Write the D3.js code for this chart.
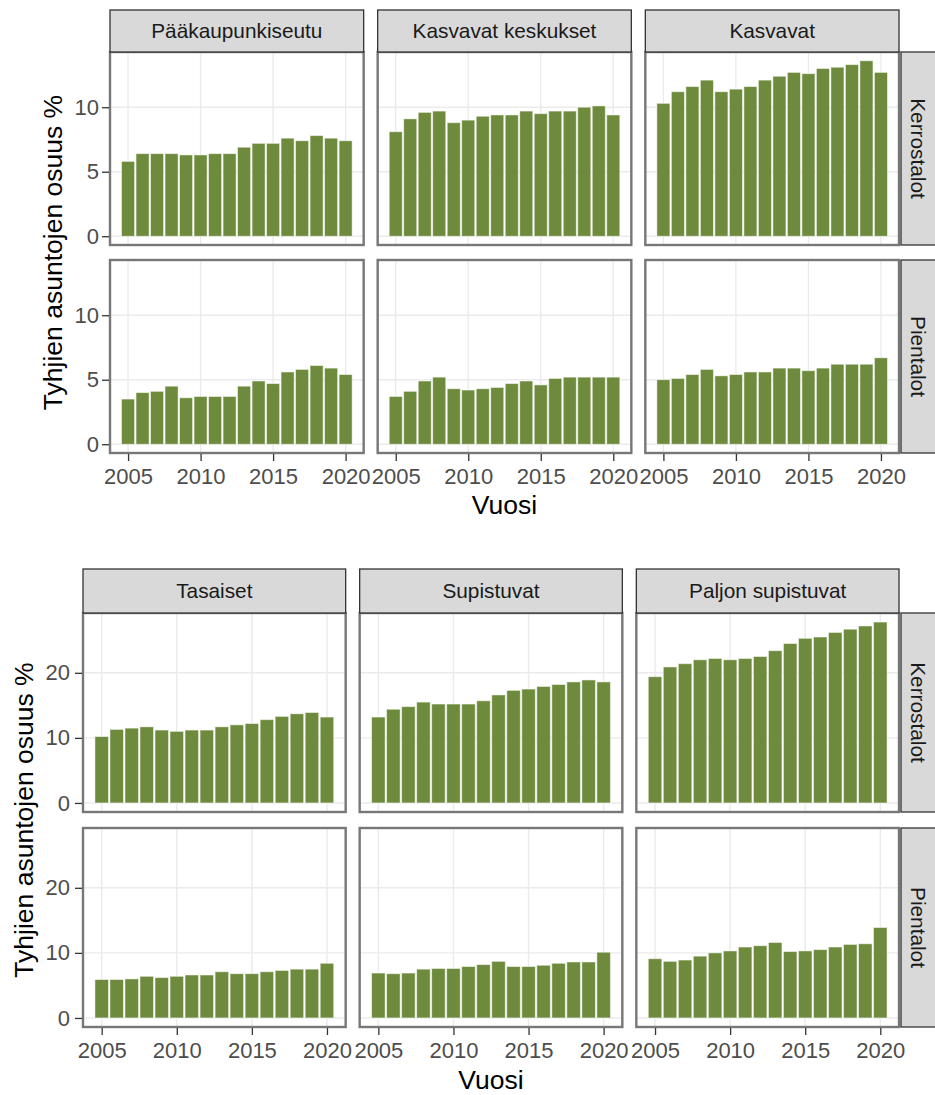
<!DOCTYPE html>
<html>
<head>
<meta charset="utf-8">
<script src="https://cdn.jsdelivr.net/npm/d3@7"></script>
<style>
  body { margin: 0; background: #fff; }
  svg { font-family: Arial, "Liberation Sans", sans-serif; display: block; }
</style>
</head>
<body>
<svg id="chart" width="935" height="1095"></svg>
<script>
"use strict";

var years = [2005, 2006, 2007, 2008, 2009, 2010, 2011, 2012, 2013, 2014, 2015, 2016, 2017, 2018, 2019, 2020]
var rowNames = ["Kerrostalot", "Pientalot"]
var regionsTop = ["Pääkaupunkiseutu", "Kasvavat keskukset", "Kasvavat"]
var regionsBottom = ["Tasaiset", "Supistuvat", "Paljon supistuvat"]
var xTickYears = [2005, 2010, 2015, 2020]
var yTicksTop = [0, 5, 10]
var yTicksBottom = [0, 10, 20]

// Kerrostalot
var paakaupKerros = [5.8, 6.4, 6.4, 6.4, 6.3, 6.3, 6.4, 6.4, 6.9, 7.2, 7.2, 7.6, 7.4, 7.8, 7.6, 7.4]
var kasvKeskKerros = [8.1, 9.1, 9.6, 9.7, 8.8, 9.0, 9.3, 9.4, 9.4, 9.7, 9.5, 9.7, 9.7, 10.0, 10.1, 9.4]
var kasvavatKerros = [10.3, 11.2, 11.6, 12.1, 11.2, 11.4, 11.6, 12.1, 12.4, 12.7, 12.6, 13.0, 13.1, 13.3, 13.6, 12.7]
var tasaisetKerros = [10.2, 11.3, 11.5, 11.7, 11.2, 11.0, 11.2, 11.2, 11.7, 12.0, 12.2, 12.8, 13.3, 13.7, 13.9, 13.2]
var supistKerros = [13.2, 14.4, 14.8, 15.5, 15.2, 15.2, 15.2, 15.7, 16.6, 17.3, 17.5, 17.9, 18.2, 18.6, 18.9, 18.6]
var paljonKerros = [19.4, 20.9, 21.4, 22.0, 22.2, 22.0, 22.2, 22.5, 23.4, 24.5, 25.3, 25.5, 26.2, 26.7, 27.2, 27.8]

// Pientalot
var paakaupPien = [3.5, 4.0, 4.1, 4.5, 3.6, 3.7, 3.7, 3.7, 4.5, 4.9, 4.7, 5.6, 5.8, 6.1, 5.9, 5.4]
var kasvKeskPien = [3.7, 4.1, 4.9, 5.2, 4.3, 4.2, 4.3, 4.4, 4.7, 4.9, 4.6, 5.1, 5.2, 5.2, 5.2, 5.2]
var kasvavatPien = [5.0, 5.1, 5.4, 5.8, 5.3, 5.4, 5.6, 5.6, 5.9, 5.9, 5.7, 5.9, 6.2, 6.2, 6.2, 6.7]
var tasaisetPien = [5.9, 5.9, 6.0, 6.4, 6.2, 6.4, 6.6, 6.6, 7.1, 6.8, 6.8, 7.1, 7.3, 7.5, 7.5, 8.4]
var supistPien = [6.9, 6.8, 6.9, 7.5, 7.6, 7.6, 7.9, 8.2, 8.7, 7.9, 7.9, 8.1, 8.4, 8.6, 8.6, 10.1]
var paljonPien = [9.1, 8.7, 8.9, 9.5, 10.0, 10.3, 10.9, 11.1, 11.6, 10.2, 10.3, 10.5, 10.9, 11.3, 11.4, 13.9]

var BAR_FILL = "#6e8b3d"
var TICK_FONT = 22
var STRIP_FONT = 20.8
var TITLE_FONT = 26.5

function makeGrid(regions, kerros, pien) {
    // [row][col] -> values
    return [kerros, pien].map((rowVals, r) =>
        rowVals.map((vals, c) => ({
            region: regions[c],
            row: rowNames[r],
            data: years.map((yr, i) => ({ year: yr, value: vals[i] }))
        })))
}

function drawFacet(svg, grid, opt) {
    var g = svg.append("g")
    var nCols = grid[0].length
    var panelW = (opt.right - opt.left - opt.colGap * (nCols - 1)) / nCols

    // ggplot-like expansions
    var x = d3.scaleLinear()
        .domain([2004.55 - 0.05 * 15.9, 2020.45 + 0.05 * 15.9])
        .range([0, panelW])
    var yMax = d3.max(grid.flat().map(p => d3.max(p.data, d => d.value)))
    var y = d3.scaleLinear()
        .domain([-0.05 * yMax, yMax * 1.05])
        .range([opt.rowH, 0])
    var barW = x(2005.45) - x(2004.55)

    var rowTop = r => opt.stripTop + opt.stripH + r * (opt.rowH + opt.rowGap)

    grid.forEach((row, r) => {
        row.forEach((panel, c) => {
            var px = opt.left + c * (panelW + opt.colGap)
            var py = rowTop(r)
            var p = g.append("g").attr("transform", "translate(" + px + "," + py + ")")

            p.append("rect")
                .attr("width", panelW).attr("height", opt.rowH)
                .attr("fill", "#fff")

            p.selectAll(".vgrid")
                .data(xTickYears)
                .enter().append("line")
                .attr("x1", d => x(d)).attr("x2", d => x(d))
                .attr("y1", 0).attr("y2", opt.rowH)
                .attr("stroke", "#ebebeb").attr("stroke-width", 1.4)

            p.selectAll(".hgrid")
                .data(opt.yTicks)
                .enter().append("line")
                .attr("x1", 0).attr("x2", panelW)
                .attr("y1", d => y(d)).attr("y2", d => y(d))
                .attr("stroke", "#ebebeb").attr("stroke-width", 1.4)

            p.selectAll(".bar")
                .data(panel.data)
                .enter().append("rect")
                .attr("x", d => x(d.year) - barW / 2)
                .attr("width", barW)
                .attr("y", d => y(d.value))
                .attr("height", d => y(0) - y(d.value))
                .attr("fill", BAR_FILL)
                .attr("stroke", "#ffffff")
                .attr("stroke-opacity", 0.55)
                .attr("stroke-width", 0.9)

            p.append("rect")
                .attr("width", panelW).attr("height", opt.rowH)
                .attr("fill", "none")
                .attr("stroke", "#777").attr("stroke-width", 2.4)

            // y axis on first column
            if (c === 0) {
                var ay = p.append("g")
                    .call(d3.axisLeft(y).tickValues(opt.yTicks).tickSize(7).tickPadding(opt.yPad))
                ay.select(".domain").remove()
                ay.selectAll("line").attr("stroke", "#333").attr("stroke-width", 1.3)
                    .attr("transform", "translate(-1,0)")
                ay.selectAll("text")
                    .attr("fill", "#4d4d4d")
                    .style("font-size", TICK_FONT + "px")
            }
            // x axis on bottom row
            if (r === grid.length - 1) {
                var ax = p.append("g")
                    .attr("transform", "translate(0," + opt.rowH + ")")
                    .call(d3.axisBottom(x).tickValues(xTickYears).tickFormat(d3.format("d")).tickSize(7).tickPadding(8))
                ax.select(".domain").remove()
                ax.selectAll("line").attr("stroke", "#333").attr("stroke-width", 1.3)
                    .attr("transform", "translate(0,1)")
                ax.selectAll("text")
                    .attr("fill", "#4d4d4d")
                    .style("font-size", TICK_FONT + "px")
            }

            // top strip
            if (r === 0) {
                var s = g.append("g").attr("transform", "translate(" + px + "," + opt.stripTop + ")")
                s.append("rect")
                    .attr("width", panelW).attr("height", opt.stripH)
                    .attr("fill", "#d9d9d9")
                    .attr("stroke", "#333").attr("stroke-width", 1.3)
                s.append("text")
                    .attr("x", panelW / 2).attr("y", opt.stripH / 2)
                    .attr("dy", "0.36em")
                    .attr("text-anchor", "middle")
                    .attr("fill", "#1a1a1a")
                    .style("font-size", STRIP_FONT + "px")
                    .text(panel.region)
            }
            // right strip
            if (c === nCols - 1) {
                var sx = px + panelW + 2
                var rs = g.append("g").attr("transform", "translate(" + sx + "," + py + ")")
                rs.append("rect")
                    .attr("width", 42).attr("height", opt.rowH)
                    .attr("fill", "#d9d9d9")
                    .attr("stroke", "#333").attr("stroke-width", 1.3)
                rs.append("text")
                    .attr("transform", "translate(17," + (opt.rowH / 2) + ")rotate(90)")
                    .attr("dy", "0.36em")
                    .attr("text-anchor", "middle")
                    .attr("fill", "#1a1a1a")
                    .style("font-size", STRIP_FONT + "px")
                    .text(panel.row)
            }
        })
    })

    var panelsTop = rowTop(0)
    var panelsBottom = rowTop(grid.length - 1) + opt.rowH

    g.append("text")
        .attr("transform", "translate(" + opt.yTitleX + "," + ((panelsTop + panelsBottom) / 2) + ")rotate(-90)")
        .attr("dy", "0.36em")
        .attr("text-anchor", "middle")
        .attr("fill", "#000")
        .style("font-size", TITLE_FONT + "px")
        .text("Tyhjien asuntojen osuus %")

    g.append("text")
        .attr("x", (opt.left + opt.right) / 2)
        .attr("y", opt.xTitleY)
        .attr("text-anchor", "middle")
        .attr("fill", "#000")
        .style("font-size", TITLE_FONT + "px")
        .text("Vuosi")
}

var svg = d3.select("#chart")

var gridTop = makeGrid(regionsTop,
    [paakaupKerros, kasvKeskKerros, kasvavatKerros],
    [paakaupPien, kasvKeskPien, kasvavatPien])

var gridBottom = makeGrid(regionsBottom,
    [tasaisetKerros, supistKerros, paljonKerros],
    [tasaisetPien, supistPien, paljonPien])

drawFacet(svg, gridTop, {
    left: 110, right: 899, colGap: 14,
    stripTop: 10, stripH: 42, rowH: 193, rowGap: 15,
    yTicks: yTicksTop, yPad: 4, yTitleX: 52, xTitleY: 514
})

drawFacet(svg, gridBottom, {
    left: 83, right: 899, colGap: 14,
    stripTop: 569, stripH: 44, rowH: 199, rowGap: 16,
    yTicks: yTicksBottom, yPad: 6, yTitleX: 23, xTitleY: 1089
})
</script>
</body>
</html>
